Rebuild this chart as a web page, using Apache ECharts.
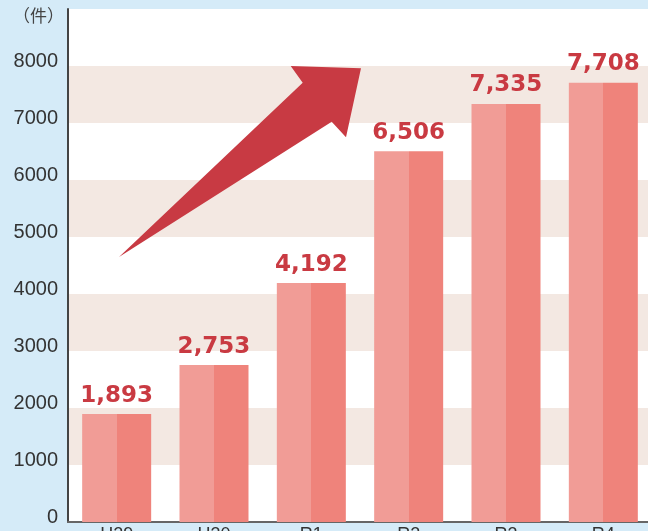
<!DOCTYPE html>
<html>
<head>
<meta charset="utf-8">
<script type="text/javascript" src="https://cdn.jsdelivr.net/npm/echarts@6/dist/echarts.min.js"></script>
<style>
	html, body { margin: 0; padding: 0; background: #d5ebf8; }
	#main { width: 648px; height: 531px; }
</style>
</head>
<body>
<div id="main"></div>
<script type="text/javascript">
	// 年度と件数
	var years = [ 'H29', 'H30', 'R1', 'R2', 'R3', 'R4' ];
	var counts = [ 1893, 2753, 4192, 6506, 7335, 7708 ];
	var yTicks = [ 0, 1000, 2000, 3000, 4000, 5000, 6000, 7000, 8000 ];

	var myChart = echarts.init(document.getElementById('main'));

	// 左半分が明るく右半分が濃い棒
	var barColor = new echarts.graphic.LinearGradient(0, 0, 1, 0, [
		{ offset : 0, color : '#f19c96' },
		{ offset : 0.5, color : '#f19c96' },
		{ offset : 0.5, color : '#ef837b' },
		{ offset : 1, color : '#ef837b' } ]);

	var option = {
		backgroundColor : '#d5ebf8',
		animation : false,
		grid : {
			left : 68,
			top : 9,
			width : 584,
			height : 513,
			outerBoundsMode : 'none',
			containLabel : false,
			show : true,
			backgroundColor : '#ffffff',
			borderWidth : 0
		},
		xAxis : {
			type : 'category',
			data : years,
			axisTick : { show : false },
			axisLine : { lineStyle : { color : '#666666', width : 2 } },
			axisLabel : {
				margin : 4,
				fontSize : 18,
				color : '#333333',
				fontFamily : 'Liberation Sans, Arial, sans-serif'
			}
		},
		yAxis : {
			type : 'value',
			min : 0,
			max : 9000,
			interval : 1000,
			axisLine : { show : true, lineStyle : { color : '#444444', width : 2 } },
			axisTick : { show : false },
			splitLine : { show : false },
			splitArea : {
				show : true,
				areaStyle : { color : [ '#ffffff', '#f3e8e2' ] }
			},
			axisLabel : {
				margin : 10,
				fontSize : 20,
				lineHeight : 10,
				verticalAlign : 'bottom',
				color : '#333333',
				fontFamily : 'Liberation Sans, Arial, sans-serif',
				formatter : function(v) {
					return yTicks.indexOf(v) >= 0 ? String(v) : '';
				}
			}
		},
		graphic : [ {
			type : 'text',
			left : 13,
			top : 7,
			style : {
				text : '（件）',
				font : '17px "Noto Sans CJK JP", sans-serif',
				fill : '#444444'
			}
		}, {
			// 右上がりの矢印
			type : 'polygon',
			z : 10,
			shape : {
				points : [ [ 119, 257 ], [ 302.7, 82.7 ], [ 290.7, 66 ],
						[ 361, 68.3 ], [ 346, 137.3 ], [ 331.7, 121.7 ] ]
			},
			style : { fill : '#c83a43' }
		} ],
		series : [ {
			name : '件数',
			type : 'bar',
			data : counts,
			barWidth : 69,
			itemStyle : { color : barColor },
			label : {
				show : true,
				position : 'top',
				distance : 7,
				color : '#c93a42',
				fontSize : 23,
				fontWeight : 'bold',
				fontFamily : 'DejaVu Sans, sans-serif',
				formatter : function(p) {
					return p.value.toLocaleString('en-US');
				}
			}
		} ]
	};
	myChart.setOption(option);
</script>
</body>
</html>
